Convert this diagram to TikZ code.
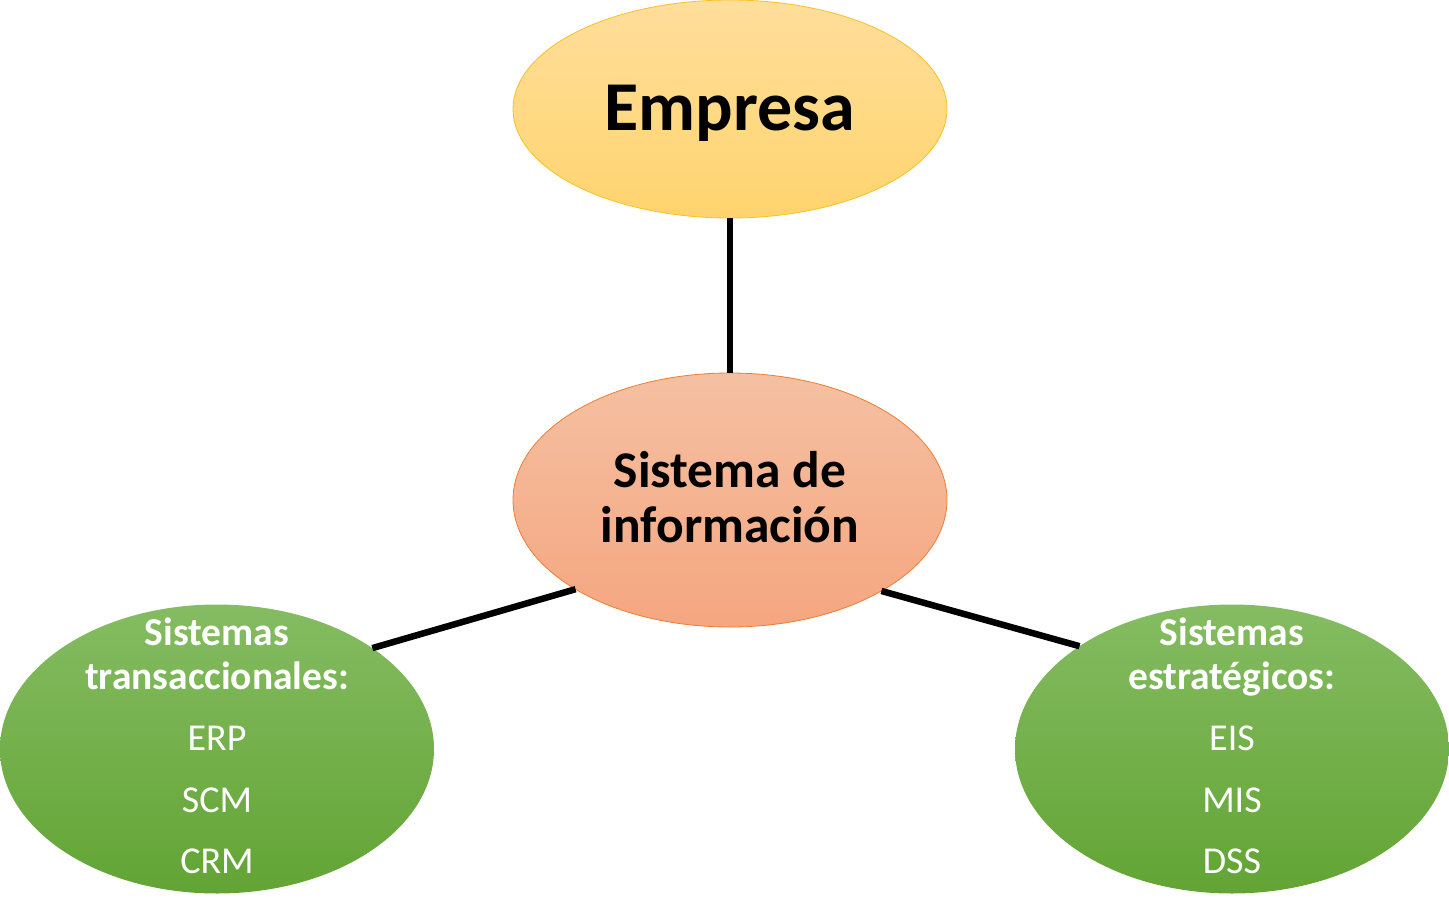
\documentclass[tikz,border=0pt]{standalone}
\usepackage{fontspec}
\setmainfont{Carlito}
\usetikzlibrary{shapes.geometric}
\definecolor{empTop}{RGB}{255,222,155}
\definecolor{empBot}{RGB}{255,212,110}
\definecolor{empLine}{RGB}{250,192,40}
\definecolor{sisTop}{RGB}{245,192,162}
\definecolor{sisBot}{RGB}{245,166,128}
\definecolor{sisLine}{RGB}{237,125,49}
\definecolor{grTop}{RGB}{133,188,98}
\definecolor{grBot}{RGB}{98,164,52}
\tikzset{
  blob/.style={ellipse, inner sep=0pt, outer sep=0pt, minimum width=434pt},
  empresa/.style={blob, minimum height=218pt, top color=empTop, bottom color=empBot, draw=empLine, line width=0.8pt},
  sistema/.style={blob, minimum height=254pt, top color=sisTop, bottom color=sisBot, draw=sisLine, line width=0.8pt},
  green/.style={blob, minimum height=289pt, top color=grTop, bottom color=grBot},
  link/.style={line width=6.5pt, black},
  wtxt/.style={anchor=base, text=white, inner sep=0pt, font=\fontsize{38}{44}\selectfont},
  wbold/.style={wtxt, font=\fontsize{39.5}{44}\selectfont\bfseries},
}
\begin{document}
\begin{tikzpicture}[x=1pt,y=-1pt]
\useasboundingbox (0,0) rectangle (1449,910);
\node[empresa] (emp) at (730,109) {};
\node[sistema] (sis) at (730,500) {};
\node[green] (left) at (217,749) {};
\node[green] (right) at (1232,749) {};
\draw[link] (emp.south) -- (sis.north);
\draw[link] (sis.210.5) -- (left.33.5);
\draw[link] (sis.329.5) -- (right.146.7);
\node[anchor=base, inner sep=0pt, font=\fontsize{70}{84}\selectfont\bfseries] (tEmp) at (730,130) {Empresa};
\node[anchor=base, inner sep=0pt, font=\fontsize{51.5}{56}\selectfont\bfseries] (tSis1) at (730,487) {Sistema de};
\node[anchor=base, inner sep=0pt, font=\fontsize{51.5}{56}\selectfont\bfseries] (tSis2) at (730,542) {información};
\node[wbold] (l1) at (217,645) {Sistemas};
\node[wbold] (l2) at (217,689) {transaccionales:};
\node[wtxt] (l3) at (217,750) {ERP};
\node[wtxt] (l4) at (217,812) {SCM};
\node[wtxt] (l5) at (217,873) {CRM};
\node[wbold] (r1) at (1232,645) {Sistemas};
\node[wbold] (r2) at (1232,689) {estratégicos:};
\node[wtxt] (r3) at (1232,750) {EIS};
\node[wtxt] (r4) at (1232,812) {MIS};
\node[wtxt] (r5) at (1232,873) {DSS};
\end{tikzpicture}
\end{document}
